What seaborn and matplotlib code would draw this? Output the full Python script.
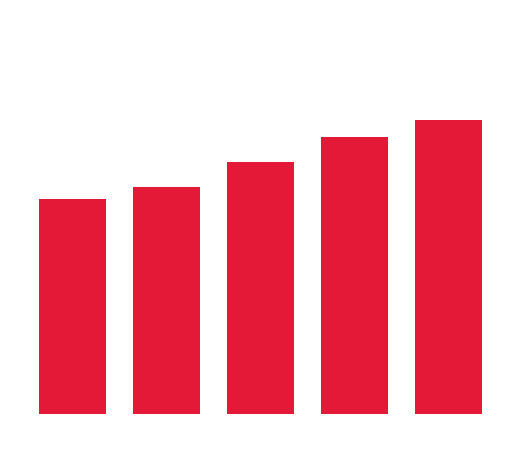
import matplotlib
matplotlib.use("Agg")
import matplotlib.pyplot as plt
import seaborn as sns
import pandas as pd

categories = ["A", "B", "C", "D", "E"]
values = [73.1, 77.2, 85.9, 94.4, 100.0]

W, H = 520, 450
fig = plt.figure(figsize=(W / 100, H / 100), dpi=100)
left, right = 25.5 / W, 495.5 / W
bottom_px, top_px = 413.7, 20.0
ax = fig.add_axes([left, (H - bottom_px) / H, right - left, (bottom_px - top_px) / H])

df = pd.DataFrame({"cat": categories, "val": values})
sns.barplot(data=df, x="cat", y="val", color="#E31937", saturation=1, width=0.713, ax=ax)

ax.set_xlim(-0.5, 4.5)
ax.set_ylim(0, 100 * (bottom_px - top_px) / 293.4)
ax.axis("off")
fig.savefig("out.png", dpi=100, facecolor="white")
